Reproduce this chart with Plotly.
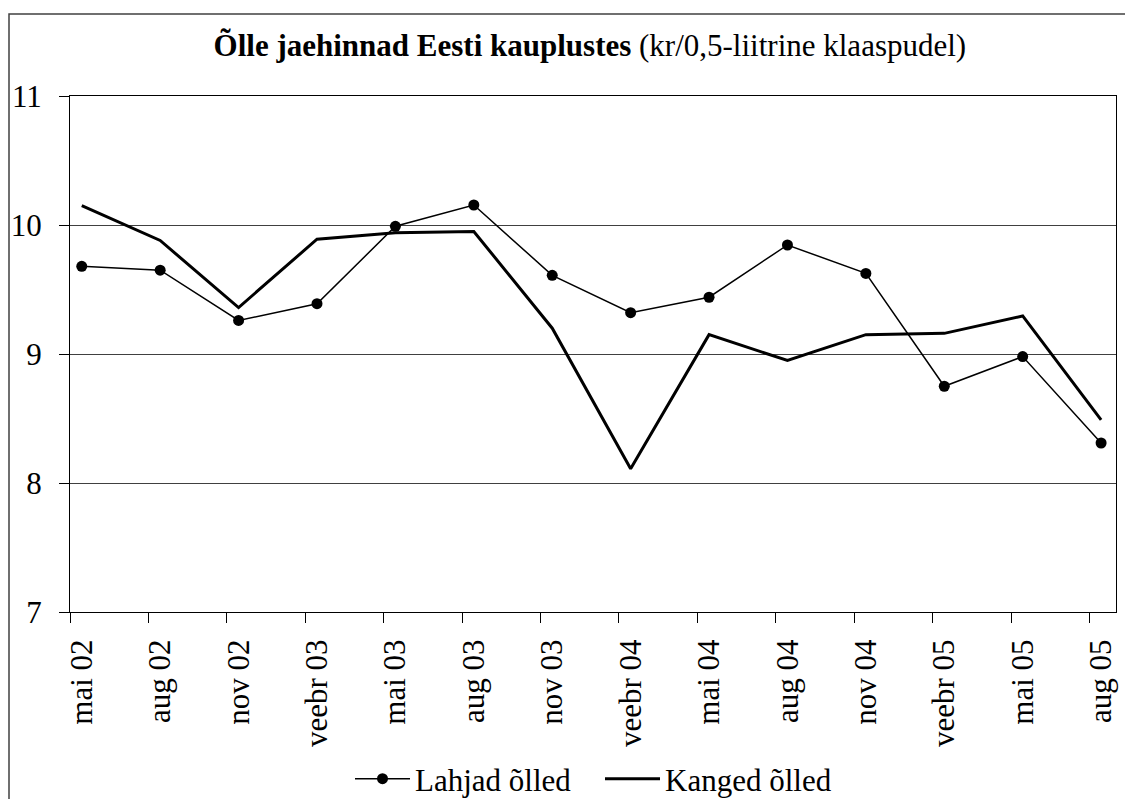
import plotly.graph_objects as go

categories = ["mai 02", "aug 02", "nov 02", "veebr 03", "mai 03", "aug 03", "nov 03",
              "veebr 04", "mai 04", "aug 04", "nov 04", "veebr 05", "mai 05", "aug 05"]
lahjad = [9.68, 9.65, 9.26, 9.39, 9.99, 10.155, 9.61, 9.32, 9.44, 9.845, 9.625, 8.75, 8.98, 8.31]
kanged = [10.15, 9.88, 9.36, 9.89, 9.94, 9.95, 9.20, 8.11, 9.15, 8.95, 9.15, 9.16, 9.295, 8.49]
y_ticks = [7, 8, 9, 10, 11]

FONT = "Liberation Serif, Times New Roman, serif"
FS = 31
positions = list(range(len(categories)))
tick_offset = 0.149

# page body has an 8px default margin; compensate
BODY = 8
W, H = 1133 - BODY, 799 - BODY
ML, MT, MR, MB = 70 - BODY, 96 - BODY, 17, 187
PW, PH = W - ML - MR, H - MT - MB

fig = go.Figure()
fig.add_trace(go.Scatter(
    x=positions, y=lahjad, name="Lahjad õlled", mode="lines+markers",
    line=dict(color="black", width=1.5),
    marker=dict(color="black", size=11, symbol="circle"),
))
fig.add_trace(go.Scatter(
    x=positions, y=kanged, name="Kanged õlled", mode="lines",
    line=dict(color="black", width=3),
))

fig.update_layout(
    width=W, height=H,
    margin=dict(l=ML, r=MR, t=MT, b=MB, pad=0, autoexpand=False),
    paper_bgcolor="white", plot_bgcolor="white",
    font=dict(family=FONT, size=FS, color="black"),
    title=dict(
        text="<b>Õlle jaehinnad Eesti kauplustes</b> (kr/0,5-liitrine klaaspudel)",
        x=0.497, xref="paper", xanchor="center",
        y=1 - (45 - BODY) / H, yref="container", yanchor="middle",
        font=dict(family=FONT, size=FS, color="black"),
    ),
    showlegend=True,
    legend=dict(
        orientation="h", xref="paper", x=(350 - 70) / PW, xanchor="left",
        yref="container", y=(H - (779 - BODY)) / H, yanchor="middle",
        font=dict(family=FONT, size=FS, color="black"),
        bgcolor="rgba(0,0,0,0)", itemwidth=55, entrywidth=180, tracegroupgap=0,
    ),
    shapes=[dict(
        type="rect", xref="paper", yref="paper",
        x0=(9 - 70) / PW, x1=1.2, y0=-0.6, y1=(612 - 14) / PH,
        line=dict(color="#404040", width=1.5), fillcolor="rgba(0,0,0,0)", layer="below",
    )],
)

fig.update_xaxes(
    range=[-tick_offset - 0.001, 13.19],
    tickmode="array", tickvals=positions, ticktext=categories,
    tickangle=-90, ticks="", ticklabelstandoff=14,
    showline=True, linecolor="black", linewidth=1, mirror=True,
    showgrid=False, zeroline=False, automargin=False,
    minor=dict(tick0=-tick_offset, dtick=1, ticks="outside", ticklen=10,
               tickcolor="black", tickwidth=1, showgrid=False),
    tickfont=dict(family=FONT, size=FS, color="black"),
)
fig.update_yaxes(
    range=[7, 11], tickmode="array", tickvals=y_ticks,
    ticks="outside", ticklen=10, tickcolor="black", tickwidth=1,
    ticklabelstandoff=11, automargin=False,
    showline=True, linecolor="black", linewidth=1, mirror=True,
    showgrid=True, gridcolor="#404040", gridwidth=1, zeroline=False,
    tickfont=dict(family=FONT, size=FS, color="black"),
)

fig.write_html("out.html")
